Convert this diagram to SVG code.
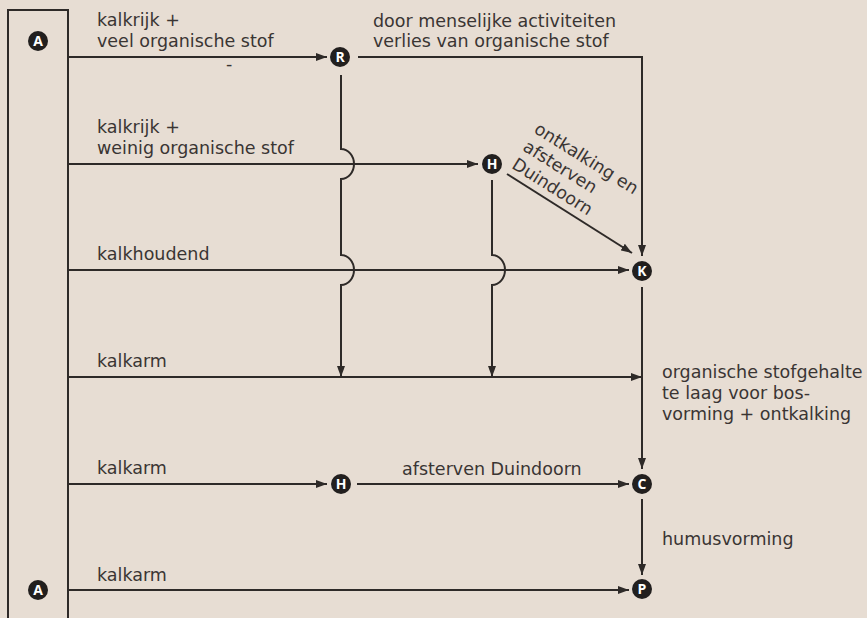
<svg xmlns="http://www.w3.org/2000/svg" width="867" height="618" viewBox="0 0 867 618">
<defs>
<style>
.bg{fill:#e7ddd3}
.ln{fill:none;stroke:#2e2a28;stroke-width:2}
.t{font-family:"DejaVu Sans","Open Sans",sans-serif;font-size:17.5px;fill:#3a3533}
.nc{fill:#221f1e}
.nl{font-family:"Open Sans","Liberation Sans",sans-serif;font-size:14px;font-weight:bold;fill:#ffffff;text-anchor:middle}
</style>
<marker id="ah" markerUnits="userSpaceOnUse" markerWidth="11" markerHeight="8" refX="11" refY="4" orient="auto">
<path d="M0,0 L11,4 L0,8 z" fill="#2e2a28"/>
</marker>
</defs>
<rect class="bg" x="0" y="0" width="867" height="618"/>
<rect class="ln" x="8" y="10" width="60" height="620"/>
<g id="connectors">
<path class="ln" d="M68,57 H327" marker-end="url(#ah)"/>
<path class="ln" d="M358,57 H642 V256" marker-end="url(#ah)"/>
<path class="ln" d="M341,75 V149 A13,15 0 0 1 341,179 V255 A13,15 0 0 1 341,285 V377" marker-end="url(#ah)"/>
<path class="ln" d="M68,164 H478" marker-end="url(#ah)"/>
<path class="ln" d="M492,180 V255 A13,15 0 0 1 492,285 V377" marker-end="url(#ah)"/>
<path class="ln" d="M507,174 L632,253" marker-end="url(#ah)"/>
<path class="ln" d="M68,270 H629" marker-end="url(#ah)"/>
<path class="ln" d="M642,287 V469" marker-end="url(#ah)"/>
<path class="ln" d="M68,377 H642" marker-end="url(#ah)"/>
<path class="ln" d="M68,484 H327" marker-end="url(#ah)"/>
<path class="ln" d="M357,484 H629" marker-end="url(#ah)"/>
<path class="ln" d="M642,499 V575" marker-end="url(#ah)"/>
<path class="ln" d="M68,590 H629" marker-end="url(#ah)"/>
</g>
<g id="labels">
<text class="t" x="97" y="26">kalkrijk +<tspan x="97" y="47">veel organische stof</tspan></text>
<text class="t" x="226" y="70">-</text>
<text class="t" x="373" y="27">door menselijke activiteiten<tspan x="373" y="47">verlies van organische stof</tspan></text>
<text class="t" x="97" y="133">kalkrijk +<tspan x="97" y="154">weinig organische stof</tspan></text>
<text class="t" transform="translate(533,132) rotate(32)" x="0" y="0">ontkalking en<tspan x="0" y="21">afsterven</tspan><tspan x="0" y="42">Duindoorn</tspan></text>
<text class="t" x="97" y="260">kalkhoudend</text>
<text class="t" x="97" y="367">kalkarm</text>
<text class="t" x="662" y="378">organische stofgehalte<tspan x="662" y="399">te laag voor bos-</tspan><tspan x="662" y="420">vorming + ontkalking</tspan></text>
<text class="t" x="97" y="474">kalkarm</text>
<text class="t" x="402" y="475">afsterven Duindoorn</text>
<text class="t" x="662" y="545">humusvorming</text>
<text class="t" x="97" y="581">kalkarm</text>
</g>
<g id="node-A1"><circle class="nc" cx="38" cy="41" r="10"/><text class="nl" x="38" y="46">A</text></g>
<g id="node-R"><circle class="nc" cx="340" cy="57" r="10"/><text class="nl" x="340" y="62">R</text></g>
<g id="node-H1"><circle class="nc" cx="492" cy="164" r="10"/><text class="nl" x="492" y="169">H</text></g>
<g id="node-K"><circle class="nc" cx="642" cy="271" r="10"/><text class="nl" x="642" y="276">K</text></g>
<g id="node-H2"><circle class="nc" cx="341" cy="484" r="10"/><text class="nl" x="341" y="489">H</text></g>
<g id="node-C"><circle class="nc" cx="642" cy="484" r="10"/><text class="nl" x="642" y="489">C</text></g>
<g id="node-P"><circle class="nc" cx="642" cy="589" r="10"/><text class="nl" x="642" y="594">P</text></g>
<g id="node-A2"><circle class="nc" cx="38" cy="590" r="10"/><text class="nl" x="38" y="595">A</text></g>
</svg>
